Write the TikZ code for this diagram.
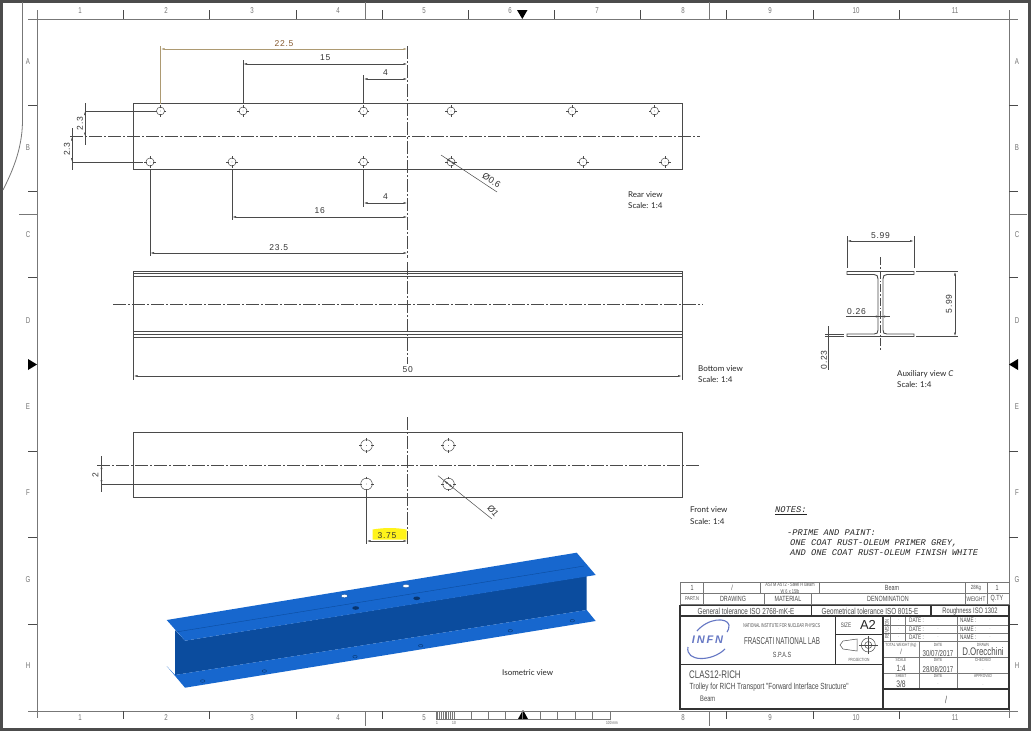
\documentclass[tikz,border=0pt]{standalone}
\usepackage{fontspec}
\usetikzlibrary{arrows.meta}
\setmainfont{Liberation Sans}
\newfontfamily\dimfont[LetterSpace=8]{Liberation Sans}
\newfontfamily\viewfont{Lato}
\newfontfamily\narrowfont[FakeStretch=.72]{Liberation Sans}
\newfontfamily\tightfont[FakeStretch=.62]{Liberation Sans}
\newfontfamily\notefont{Liberation Mono}
\definecolor{lineink}{HTML}{4A4A4A}
\definecolor{frameink}{HTML}{777777}
\definecolor{brownink}{HTML}{AD9A72}
\definecolor{flangeblue}{HTML}{1767CE}
\definecolor{webblue}{HTML}{0B4C9E}
\definecolor{logoblue}{HTML}{6577C4}
\newcommand{\holemark}[3]{%
	\node[holemk, minimum size=#3*2pt] (#1) at (#2) {};
	\draw[thinink] ([yshift=1.4pt]#1.north) -- ([yshift=-1.2pt]#1.north);
	\draw[thinink] ([yshift=1.2pt]#1.south) -- ([yshift=-1.4pt]#1.south);
	\draw[thinink] ([xshift=1.4pt]#1.east) -- ([xshift=-1.2pt]#1.east);
	\draw[thinink] ([xshift=1.2pt]#1.west) -- ([xshift=-1.4pt]#1.west);
	\fill[lineink] (#1) circle (.4pt);
}
\begin{document}
\begin{tikzpicture}[x=1pt, y=-1pt, line join=miter,
	thinink/.style = {draw=lineink, line width=.5pt},
	frameline/.style = {draw=frameink, line width=.8pt},
	outline/.style = {draw=lineink, line width=.8pt},
	centreline/.style = {draw=lineink, line width=.6pt, dash pattern=on 13pt off 2pt on 2pt off 2pt},
	extline/.style = {draw=lineink, line width=.7pt},
	dimline/.style = {draw=lineink, line width=.6pt, {Latex[length=4pt,width=2pt]}-{Latex[length=4pt,width=2pt]}},
	holemk/.style = {draw=lineink, circle, line width=.5pt, inner sep=0pt},
	dimtext/.style = {font=\dimfont\fontsize{8.5}{9}\selectfont, text=black!80, inner sep=0pt},
	leadtext/.style = {font=\fontsize{9}{9}\selectfont, text=black!80, inner sep=0pt},
	viewtext/.style = {font=\viewfont\fontsize{8}{9}\selectfont, text=black!85, anchor=west, inner sep=0pt},
	notetext/.style = {font=\notefont\itshape\fontsize{8.7}{9}\selectfont, text=black!85, anchor=west, inner sep=0pt},
	rulertext/.style = {font=\narrowfont\fontsize{8.5}{9}\selectfont, text=black!55, inner sep=0pt},
	tb/.style = {font=\narrowfont\fontsize{7.5}{8}\selectfont, text=black!70, inner sep=0pt},
	tbtiny/.style = {font=\narrowfont\fontsize{4.5}{5}\selectfont, text=black!65, inner sep=0pt},
	tbbig/.style = {font=\narrowfont\fontsize{11}{12}\selectfont, text=black!70, inner sep=0pt},
	tbline/.style = {draw=frameink, line width=.8pt},
	tbthick/.style = {draw=black!80, line width=1.2pt}]
	\useasboundingbox (0,0) rectangle (1031,731);
	\fill[white] (0,0) rectangle (1031,731);
	% sheet edge
	\draw[draw=black!70, line width=3pt] (1,1) -- (1029.5,1) -- (1029.5,729.5) -- (1,729.5) -- cycle;
	\draw[frameink, line width=.8pt] (22.5,2) -- (22.5,122) .. controls (22,150) and (12,172) .. (3,190);
	% frame and rulers
	\draw[frameline] (37,10) -- (37,718);
	\draw[frameline] (1009,10) -- (1009,718);
	\draw[frameline] (28,19) -- (1018,19);
	\draw[frameline] (28,711) -- (1018,711);
	\foreach \x in {123,209,296,382,468,554,640,726,813,899} {
		\draw[frameline, draw=lineink] (\x,10) -- (\x,19);
	}
	\foreach \x in {123,209,296,382,726,813,899} {
		\draw[frameline, draw=lineink] (\x,711) -- (\x,719);
	}
	\foreach \y in {105,191,277,451,537,624} {
		\draw[frameline, draw=lineink] (28,\y) -- (37,\y);
		\draw[frameline, draw=lineink] (1009,\y) -- (1018,\y);
	}
	\foreach \x in {365,709} {
		\draw[frameline] (\x,2) -- (\x,19);
		\draw[frameline] (\x,711) -- (\x,726);
	}
	\draw[frameline] (19,214) -- (37,214);
	\draw[frameline] (1009,214) -- (1027,214);
	\foreach \n/\x in {1/80,2/166,3/252,4/338,5/424,6/510,7/597,8/683,9/770,10/856,11/955} {
		\node[rulertext] (top\n) at (\x,10.5) {\n};
	}
	\foreach \n/\x in {1/80,2/166,3/252,4/338,5/424,8/683,9/770,10/856,11/955} {
		\node[rulertext] (bot\n) at (\x,718) {\n};
	}
	\foreach \n/\y in {A/62,B/148,C/235,D/321,E/407,F/493,G/580,H/666} {
		\node[rulertext] (left\n) at (28,\y) {\n};
		\node[rulertext] (right\n) at (1017,\y) {\n};
	}
	\fill[black] (517,10) -- (527.5,10) -- (522.3,19) -- cycle;
	\fill[black] (518,719) -- (528,719) -- (523,710) -- cycle;
	\fill[black] (28,359) -- (37,364.5) -- (28,370) -- cycle;
	\fill[black] (1018,359) -- (1009,364.5) -- (1018,370) -- cycle;
	% scale bar
	\draw[frameline] (436,711) rectangle (610,719);
	\foreach \x in {471,488,505,522,540,557,575,592} \draw[frameline] (\x,711) -- (\x,719);
	\foreach \i in {1,...,10} \draw[frameline] (436+\i*1.8,711) -- (436+\i*1.8,719);
	\node[tbtiny] (scaleA) at (437,722.5) {1};
	\node[tbtiny] (scaleB) at (454,722.5) {10};
	\node[tbtiny] (scaleC) at (612,722.5) {100 mm};
	% rear view
	\coordinate (axis) at (407.5,0);
	\draw[outline] (133.5,103.5) rectangle (682,169);
	\draw[centreline] (70,136.5) -- (700,136.5);
	\draw[centreline] (axis |- 0,46) -- (axis |- 0,258);
	\holemark{ra}{160.5,111}{4}
	\holemark{rb}{243,111}{4}
	\holemark{rc}{363.5,111}{4}
	\holemark{rd}{451,111}{4}
	\holemark{re}{572,111}{4}
	\holemark{rf}{654.5,111}{4}
	\holemark{sa}{150,162}{4}
	\holemark{sb}{232,162}{4}
	\holemark{sc}{363.5,162}{4}
	\holemark{sd}{451,162}{4}
	\holemark{se}{583,162}{4}
	\holemark{sf}{665,162}{4}
	\draw[extline, draw=brownink] (ra |- 0,46) -- (ra |- 0,103.5);
	\draw[dimline, draw=brownink] (ra |- 0,49) -- (axis |- 0,49) node[dimtext, midway, yshift=5pt, text=brown!70!black] (dimA) {22.5};
	\draw[extline] (rb |- 0,60) -- (rb |- 0,103.5);
	\draw[dimline] (rb |- 0,64) -- (axis |- 0,64) node[dimtext, midway, yshift=6pt] (dimB) {15};
	\draw[extline] (rc |- 0,75) -- (rc |- 0,103.5);
	\draw[dimline] (rc |- 0,79) -- (axis |- 0,79) node[dimtext, midway, yshift=6pt] (dimC) {4};
	\draw[extline] (sc |- 0,169) -- (sc |- 0,207);
	\draw[dimline] (sc |- 0,203) -- (axis |- 0,203) node[dimtext, midway, yshift=6pt] (dimD) {4};
	\draw[extline] (sb |- 0,169) -- (sb |- 0,220);
	\draw[dimline] (sb |- 0,217) -- (axis |- 0,217) node[dimtext, midway, yshift=6pt] (dimE) {16};
	\draw[extline] (sa |- 0,169) -- (sa |- 0,256);
	\draw[dimline] (sa |- 0,253) -- (axis |- 0,253) node[dimtext, midway, yshift=5pt] (dimF) {23.5};
	\draw[extline] (85,111) -- (ra.west);
	\draw[extline] (85,103) -- (85,145);
	\draw[dimline] (85,111) -- (85,136.5);
	\node[dimtext, rotate=90] (dimG) at (80,123.5) {2.3};
	\draw[extline] (72,162) -- (143,162);
	\draw[extline] (72,128) -- (72,170);
	\draw[dimline] (72,136.5) -- (72,162);
	\node[dimtext, rotate=90] (dimH) at (67,149) {2.3};
	\coordinate (leadA) at (441,155);
	\coordinate (leadB) at (497,192);
	\draw[thinink] (leadA) -- (leadB);
	\draw[dimline, line width=.4pt] (446.5,158.6) -- (455.5,164.6);
	\node[leadtext, rotate=-33] (dimJ) at (491.5,180.5) {Ø0.6};
	\node[viewtext] (rearA) at (628,195) {Rear view};
	\node[viewtext] (rearB) at (628,205.7) {Scale:  1:4};
	% bottom view
	\draw[outline] (133.5,271) rectangle (682,337);
	\draw[thinink] (133.5,273.5) -- (682,273.5);
	\draw[outline] (133.5,276) -- (682,276);
	\draw[outline] (133.5,331) -- (682,331);
	\draw[thinink] (133.5,334) -- (682,334);
	\draw[centreline] (113,304.5) -- (703,304.5);
	\draw[centreline] (axis |- 0,262) -- (axis |- 0,364);
	\coordinate (bl) at (133.5,337);
	\coordinate (br) at (682,337);
	\draw[extline] (bl) -- (bl |- 0,380);
	\draw[extline] (br) -- (br |- 0,380);
	\draw[dimline] (bl |- 0,376) -- (br |- 0,376) node[dimtext, midway, yshift=6pt] (dimK) {50};
	\node[viewtext] (botA) at (698,369) {Bottom view};
	\node[viewtext] (botB) at (698,380) {Scale:  1:4};
	% front view
	\fill[yellow!90!white] (372.5,529.5) .. controls (385,527.5) and (395,527.5) .. (406.5,529.5) -- (406.5,539.5) -- (372.5,539.5) -- cycle;
	\draw[outline] (133.5,432) rectangle (682,497);
	\draw[centreline] (97,465) -- (700,465);
	\draw[centreline] (axis |- 0,417) -- (axis |- 0,544);
	\holemark{fa}{366.5,445.5}{5.8}
	\holemark{fb}{448.5,445.5}{5.8}
	\holemark{fc}{366.5,484}{5.8}
	\holemark{fd}{448.5,484}{5.8}
	\draw[extline] (101.5,484) -- (fc.west);
	\draw[extline] (101.5,456) -- (101.5,492);
	\draw[dimline] (101.5,465) -- (101.5,484);
	\node[dimtext, rotate=90] (dimL) at (95.5,475) {2};
	\draw[extline] (fc.south) -- (fc |- 0,544);
	\draw[dimline] (fc |- 0,541) -- (axis |- 0,541) node[dimtext, midway, yshift=5.5pt] (dimM) {3.75};
	\coordinate (leadC) at (438,475.7);
	\coordinate (leadD) at (492,519);
	\draw[thinink] (leadC) -- (leadD);
	\draw[dimline, line width=.4pt] (444,480.5) -- (453,487.7);
	\node[leadtext, rotate=-50] (dimN) at (493,511) {Ø1};
	\node[viewtext] (frontA) at (690,510) {Front view};
	\node[viewtext] (frontB) at (690,521.5) {Scale:  1:4};
	% auxiliary view
	\draw[outline, line width=.9pt] (847,271.5) -- (914,271.5) -- (914,274.5) -- (887,274.5) .. controls (884,274.5) and (883,276) .. (883,279)
		-- (883,330) .. controls (883,333) and (884,334) .. (887,334) -- (914,334) -- (914,336.5) -- (847,336.5) -- (847,334) -- (874,334)
		.. controls (877,334) and (878,333) .. (878,330) -- (878,279) .. controls (878,276) and (877,274.5) .. (874,274.5) -- (847,274.5) -- cycle;
	\draw[centreline, dash pattern=on 8pt off 2pt on 1.5pt off 2pt] (880.5,257) -- (880.5,350);
	\draw[extline] (847,236) -- (847,268);
	\draw[extline] (914,236) -- (914,268);
	\draw[dimline] (847,241) -- (914,241) node[dimtext, midway, yshift=5pt] (dimP) {5.99};
	\draw[extline] (916,271.5) -- (958,271.5);
	\draw[extline] (916,336.5) -- (958,336.5);
	\draw[dimline] (955,271.5) -- (955,336.5);
	\node[dimtext, rotate=90] (dimQ) at (949,304) {5.99};
	\draw[thinink] (846,316.5) -- (890,316.5);
	\draw[dimline, line width=.4pt] (873,316.5) -- (888,316.5);
	\node[dimtext] (dimR) at (856.5,312) {0.26};
	\draw[thinink] (825,334) -- (844,334);
	\draw[thinink] (825,336.5) -- (844,336.5);
	\draw[thinink] (828.5,326) -- (828.5,370);
	\node[dimtext, rotate=90] (dimS) at (824,360) {0.23};
	\node[viewtext] (auxA) at (897,374.5) {Auxiliary view \textit{C}};
	\node[viewtext] (auxB) at (897,385) {Scale:  1:4};
	% notes
	\node[notetext] (noteA) at (775,511) {\underline{NOTES:}};
	\node[notetext] (noteB) at (787,533) {-PRIME AND PAINT:};
	\node[notetext] (noteC) at (790,543) {ONE COAT RUST-OLEUM PRIMER GREY,};
	\node[notetext] (noteD) at (790,553) {AND ONE COAT RUST-OLEUM FINISH WHITE};
	% isometric view
	\fill[webblue] (175,630) -- (185,640.7) -- (586.7,576) -- (586.7,610) -- (175,675) -- cycle;
	\fill[flangeblue] (166.7,666) -- (175,675) -- (586.7,610) -- (595.7,621) -- (185,687.7) -- cycle;
	\fill[flangeblue] (166.7,620) -- (576.7,552.7) -- (595.7,575) -- (185,640.7) -- cycle;
	\draw[webblue, line width=.4pt] (176,632) -- (584,566);
	\foreach \x/\y in {344.3/596,406/586} \fill[white, draw=webblue, line width=.4pt] (\x,\y) ellipse (3.4pt and 1.8pt);
	\foreach \x/\y in {355.7/608,416.7/598.3} \fill[webblue!70!black] (\x,\y) ellipse (3.4pt and 1.8pt);
	\foreach \x/\y in {202.7/681,264.3/671,355/656.7,420.7/645.7,510.3/630.7,572.3/620.7} \draw[webblue!80!black, line width=.5pt] (\x,\y) ellipse (2.2pt and 1.3pt);
	\node[viewtext] (isoA) at (502,673) {Isometric view};
	% title block, upper rows
	\draw[tbline] (680,582) rectangle (1009,604.5);
	\draw[tbline] (680,593.7) -- (1009,593.7);
	\foreach \x in {703.5,760.7,819,965,987} \draw[tbline] (\x,582) -- (\x,593.7);
	\foreach \x in {703.5,764.3,811,965,987} \draw[tbline] (\x,593.7) -- (\x,604.5);
	\node[tb] (rowA) at (692,588) {1};
	\node[tb] (rowB) at (732,588) {/};
	\node[tbtiny, align=center, font=\narrowfont\fontsize{5.5}{6.5}\selectfont] (rowC) at (790,588) {ASTM A572 - Steel H Beam\\W 6 x 15lb};
	\node[tb] (rowD) at (892,588) {Beam};
	\node[tb, font=\narrowfont\fontsize{6}{7}\selectfont] (rowE) at (976,588) {28Kg};
	\node[tb] (rowF) at (997,588) {1};
	\node[tb, font=\narrowfont\fontsize{5.5}{7}\selectfont] (headA) at (692,599) {PART.N};
	\node[tb] (headB) at (733,599) {DRAWING};
	\node[tb] (headC) at (788,599) {MATERIAL};
	\node[tb] (headD) at (888,599) {DENOMINATION};
	\node[tb, font=\narrowfont\fontsize{6.5}{7}\selectfont] (headE) at (976,599) {WEIGHT};
	\node[tb] (headF) at (997,599) {Q.TY};
	% title block, main part
	\draw[tbline] (883,625) -- (1009,625);
	\draw[tbline] (883,633.3) -- (1009,633.3);
	\draw[tbline] (883,641.7) -- (1009,641.7);
	\draw[tbline] (883,657.3) -- (1009,657.3);
	\draw[tbline] (883,673.3) -- (1009,673.3);
	\draw[tbline] (890.7,616) -- (890.7,641.7);
	\draw[tbline] (905.7,616) -- (905.7,641.7);
	\draw[tbline] (957.3,616) -- (957.3,689);
	\draw[tbline] (919.3,641.7) -- (919.3,689);
	\draw[tbthick] (680,605.5) rectangle (1009,709);
	\draw[tbthick] (680,616) -- (1009,616);
	\draw[tbthick] (811.5,605.5) -- (811.5,616);
	\draw[tbthick] (931,605.5) -- (931,616);
	\draw[tbthick] (680,664.5) -- (883,664.5);
	\draw[tbthick] (835.7,616) -- (835.7,664.5);
	\draw[tbthick] (835.7,634.2) -- (883,634.2);
	\draw[tbthick] (883,616) -- (883,709);
	\draw[tbthick] (883,689) -- (1009,689);
	\node[tb, font=\narrowfont\fontsize{8.8}{9}\selectfont] (tolA) at (746,611) {General tolerance ISO 2768-mK-E};
	\node[tb, font=\narrowfont\fontsize{8.8}{9}\selectfont] (tolB) at (870,611) {Geometrical tolerance ISO 8015-E};
	\node[tb, font=\narrowfont\fontsize{8}{9}\selectfont] (tolC) at (970,611) {Roughness ISO 1302};
	% logo
	\draw[logoblue, line width=1.1pt] (697,631) .. controls (708,618) and (727,617) .. (729,625) .. controls (729.5,628) and (728,630) .. (727,632);
	\draw[logoblue, line width=1.1pt] (688,647) .. controls (685,662) and (712,662) .. (725,649);
	\node[font=\itshape\bfseries\fontsize{11}{12}\selectfont, text=logoblue, inner sep=0pt] (logoA) at (707.5,639.5) {I\,N\,F\,N};
	\node[tb, font=\tightfont\fontsize{5.5}{6}\selectfont] (labA) at (781.7,625.7) {NATIONAL INSTITUTE FOR NUCLEAR PHYSICS};
	\node[tb, font=\tightfont\fontsize{10}{11}\selectfont] (labB) at (782,641) {FRASCATI NATIONAL LAB};
	\node[tb] (labC) at (782,654.5) {S.P.A.S};
	\node[tb, font=\narrowfont\fontsize{6.5}{7}\selectfont] (sizeA) at (846,625) {SIZE};
	\node[tb, font=\fontsize{13}{14}\selectfont, text=black!85] (sizeB) at (868,625) {A2};
	\draw[thinink] (840,645) -- (843,641) -- (857,639) -- (857,651) -- (843,649) -- cycle;
	\node[holemk, minimum size=14pt] (projA) at (868.3,645) {};
	\node[holemk, minimum size=7pt] (projB) at (868.3,645) {};
	\draw[thinink] (859,645) -- (878,645);
	\draw[thinink] (868.3,636) -- (868.3,654);
	\node[tbtiny] (projC) at (859,659.5) {PROJECTION};
	\node[tb, rotate=90, font=\narrowfont\fontsize{5.5}{6}\selectfont] (revA) at (887,629) {REVISION};
	\foreach \n/\y in {a/620.5,b/629,c/637.5} {
		\node[tbtiny] (revdot\n) at (898.3,\y) {.};
		\node[tb, anchor=west, font=\narrowfont\fontsize{6.5}{7}\selectfont] (revdate\n) at (909,\y) {DATE :};
		\node[tbtiny] (revdotb\n) at (938,\y) {.};
		\node[tb, anchor=west, font=\narrowfont\fontsize{6.5}{7}\selectfont] (revname\n) at (960,\y) {NAME :};
		\node[tbtiny] (revdotc\n) at (990,\y) {.};
	}
	\node[tbtiny] (cellA) at (901,645) {TOTAL WEIGHT (Kg)};
	\node[tb] (cellB) at (901,652) {/};
	\node[tbtiny] (cellC) at (938,645) {DATE};
	\node[tb, font=\narrowfont\fontsize{8.5}{9}\selectfont] (cellD) at (938,653) {30/07/2017};
	\node[tbtiny] (cellE) at (983,645) {DRAWN};
	\node[tbbig] (cellF) at (983,652) {D.Orecchini};
	\node[tbtiny] (cellG) at (901,660) {SCALE};
	\node[tb, font=\narrowfont\fontsize{9}{10}\selectfont] (cellH) at (901,668) {1:4};
	\node[tbtiny] (cellJ) at (938,660) {DATE};
	\node[tb, font=\narrowfont\fontsize{8.5}{9}\selectfont] (cellK) at (938,669) {28/08/2017};
	\node[tbtiny] (cellL) at (983,660) {CHECKED};
	\node[tbtiny] (cellM) at (983,670) {.};
	\node[tbtiny] (cellN) at (901,676) {SHEET};
	\node[tb, font=\narrowfont\fontsize{9.5}{10}\selectfont] (cellP) at (901,684) {3/8};
	\node[tbtiny] (cellQ) at (938,676) {DATE};
	\node[tbtiny] (cellR) at (938,684) {.};
	\node[tbtiny] (cellS) at (983,676) {APPROVED};
	\node[tbtiny] (cellT) at (983,685) {.};
	\node[tb, font=\narrowfont\fontsize{10}{11}\selectfont] (cellU) at (946,700) {/};
	\node[tb, anchor=west, font=\narrowfont\fontsize{11}{12}\selectfont] (titleA) at (689,675) {CLAS12-RICH};
	\node[tb, anchor=west, font=\narrowfont\fontsize{8.9}{9}\selectfont] (titleB) at (689.5,687) {Trolley for RICH Transport "Forward Interface Structure"};
	\node[tb, anchor=west, font=\narrowfont\fontsize{8}{9}\selectfont] (titleC) at (700,699) {Beam};
\end{tikzpicture}
\end{document}
